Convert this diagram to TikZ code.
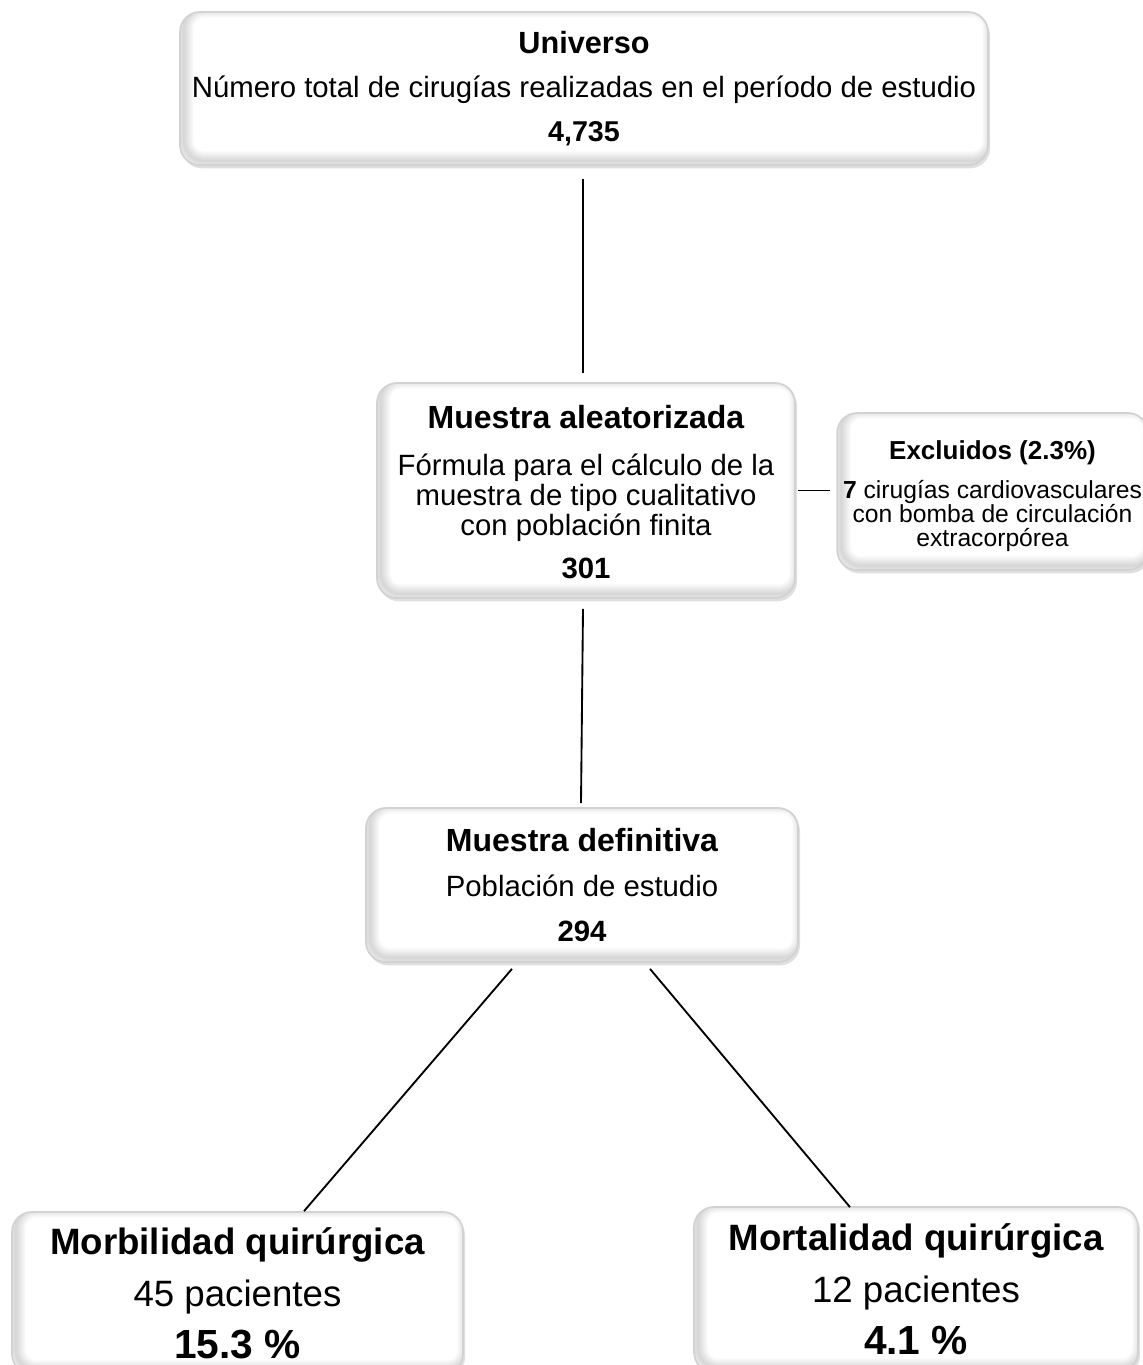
\documentclass[tikz,border=0pt]{standalone}
\usepackage{fontspec}
\setmainfont{Liberation Sans}
\usetikzlibrary{shadows}
\begin{document}
\begin{tikzpicture}[x=0.75pt,y=-0.75pt,
  box/.style={draw=gray!35, line width=1.3pt, fill=white, rounded corners=15pt,
    drop shadow={opacity=0.25, shadow xshift=1.5pt, shadow yshift=-2.5pt},
    path picture={\foreach \w in {2,5,8,11,14}{
      \draw[black, opacity=0.03, line width=\w pt, rounded corners=15pt]
        ([shift={(3pt,3pt)}]path picture bounding box.south west) rectangle
        ([shift={(3pt,3pt)}]path picture bounding box.north east);}},
    align=center, inner sep=0pt},
  conn/.style={line width=1.4pt, black}]
\useasboundingbox (0,0) rectangle (1143,1365);
\fill[white] (0,0) rectangle (1143,1365);

\node[box, minimum width=606pt, minimum height=114.75pt,
  font=\fontsize{22}{33}\selectfont] (u) at (584,88.5)
 {\fontsize{23}{33}\selectfont\bfseries Universo\\
  N\'umero total de cirug\'ias realizadas en el per\'iodo de estudio\\
  \fontsize{21.5}{33}\selectfont\bfseries 4,735};

\node[box, minimum width=313.5pt, minimum height=161.25pt,
  font=\fontsize{22}{22.5}\selectfont] (a) at (586,490.5)
 {\rule{0pt}{20pt}\fontsize{24}{22.5}\selectfont\bfseries Muestra aleatorizada\\[12.5pt]
  F\'ormula para el c\'alculo de la\\
  muestra de tipo cualitativo\\
  con poblaci\'on finita\\[9.75pt]
  \bfseries 301};

\node[box, minimum width=233pt, minimum height=117.75pt,
  font=\fontsize{18.5}{18}\selectfont] (e) at (992.5,491.5)
 {\rule{0pt}{21pt}\fontsize{19.5}{18}\selectfont\bfseries Excluidos (2.3\%)\\[11pt]
  \textbf{7} cirug\'ias cardiovasculares\\
  con bomba de circulaci\'on\\
  extracorp\'orea};

\node[box, minimum width=324pt, minimum height=115.5pt,
  font=\fontsize{22}{34}\selectfont] (d) at (582,885)
 {\fontsize{24}{34}\selectfont\bfseries Muestra definitiva\\
  Poblaci\'on de estudio\\
  \bfseries 294};

\node[box, minimum width=338.25pt, minimum height=121.5pt,
  font=\fontsize{27.5}{39}\selectfont] (m1) at (237.5,1293)
 {\bfseries Morbilidad quir\'urgica\\
  45 pacientes\\
  \fontsize{30.5}{39}\selectfont\bfseries 15.3 \%};

\node[box, minimum width=333pt, minimum height=123.75pt,
  font=\fontsize{27.5}{39}\selectfont] (m2) at (916,1289.5)
 {\bfseries Mortalidad quir\'urgica\\
  12 pacientes\\
  \fontsize{30.5}{39}\selectfont\bfseries 4.1 \%};

\draw[conn] ([shift={(-1,13)}]u.south) -- ([shift={(-3,-9)}]a.north);
\draw[conn] ([shift={(-3,10)}]a.south) -- ([shift={(-1,-4)}]d.north);
\draw[conn] ([xshift=1.5pt]a.east) -- ([xshift=-5pt]e.west |- a.east);
\draw[conn] ([shift={(-70,6)}]d.south) -- ([shift={(66.5,0)}]m1.north);
\draw[conn] ([shift={(68,6)}]d.south) -- ([shift={(-66,1)}]m2.north);
\end{tikzpicture}
\end{document}
